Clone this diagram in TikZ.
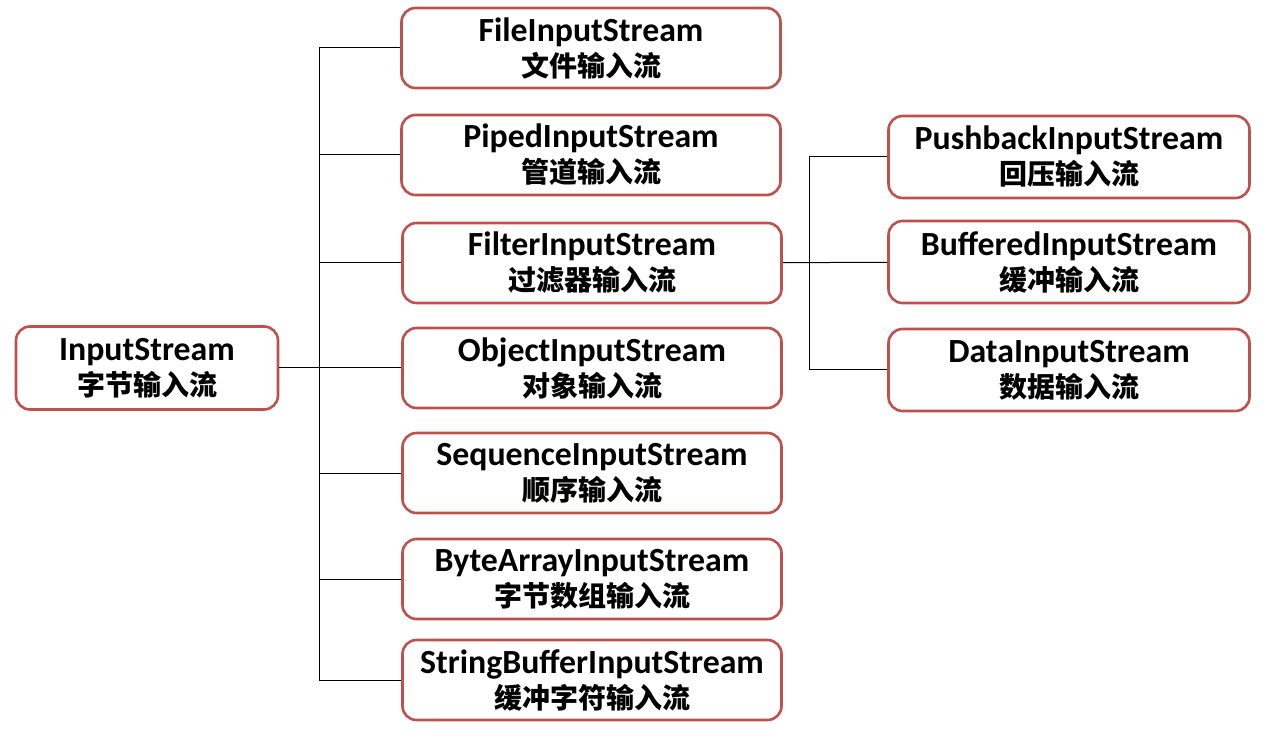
\documentclass[tikz,border=0pt]{standalone}
\usepackage{fontspec}
\setmainfont{Carlito}
\newfontfamily\cjk{Noto Sans CJK SC}
\definecolor{boxred}{RGB}{192,80,77}
\tikzset{
  cls/.style={draw=boxred,line width=2.6pt,rounded corners=14pt,fill=white,
    align=center,minimum width=379pt,minimum height=80pt,inner sep=0pt,
    font=\fontsize{33.8}{35}\selectfont\bfseries},
  link/.style={line width=1pt}
}
\newcommand{\zh}[1]{{\cjk\fontsize{28}{35}\selectfont\bfseries #1}}

\begin{document}
\begin{tikzpicture}[x=1pt,y=-1pt]
      \useasboundingbox (0,0) rectangle (1283,735);
      \node[cls,minimum width=262pt,minimum height=83pt] (in) at (147,368) {InputStream\\\zh{字节输入流}};
      \node[cls] (file) at (591,48) {FileInputStream\\\zh{文件输入流}};
      \node[cls] (piped) at (591,155) {PipedInputStream\\\zh{管道输入流}};
      \node[cls] (filter) at (592,263) {FilterInputStream\\\zh{过滤器输入流}};
      \node[cls] (obj) at (592,368) {ObjectInputStream\\\zh{对象输入流}};
      \node[cls] (seq) at (592,473) {SequenceInputStream\\\zh{顺序输入流}};
      \node[cls] (bytes) at (592,579) {ByteArrayInputStream\\\zh{字节数组输入流}};
      \node[cls] (str) at (592,680) {StringBufferInputStream\\\zh{缓冲字符输入流}};
      \node[cls,minimum width=361pt,minimum height=82pt] (push) at (1069,157) {PushbackInputStream\\\zh{回压输入流}};
      \node[cls,minimum width=361pt,minimum height=82pt] (buf) at (1069,262) {BufferedInputStream\\\zh{缓冲输入流}};
      \node[cls,minimum width=361pt,minimum height=82pt] (data) at (1069,370) {DataInputStream\\\zh{数据输入流}};
      \coordinate (trunk) at (319,368);
      \coordinate (trunk2) at (809,263);
      \draw[link] (in) -- (obj);
      \draw[link] (file.west) -- (file.west -| trunk) -- (str.west -| trunk) -- (str.west);
      \draw[link] (piped.west) -- (piped.west -| trunk);
      \draw[link] (filter.west) -- (filter.west -| trunk);
      \draw[link] (seq.west) -- (seq.west -| trunk);
      \draw[link] (bytes.west) -- (bytes.west -| trunk);
      \draw[link] (filter) -- (buf);
      \draw[link] (push.west) -- (push.west -| trunk2) -- (data.west -| trunk2) -- (data.west);
    \end{tikzpicture}
\end{document}
